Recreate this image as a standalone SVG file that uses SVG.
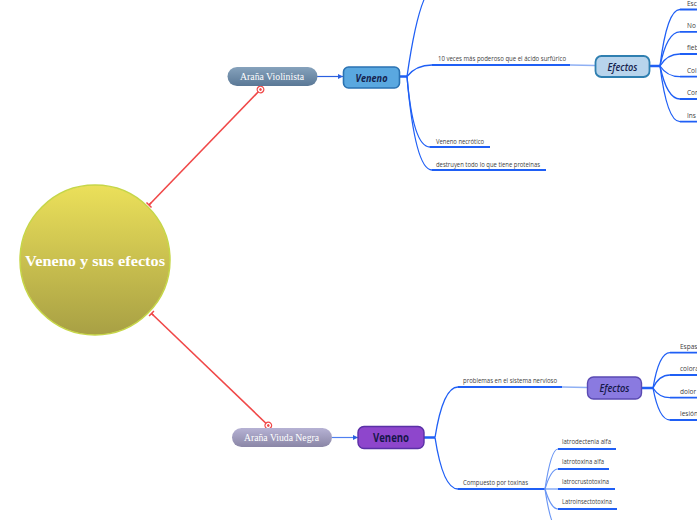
<svg xmlns="http://www.w3.org/2000/svg" width="697" height="520" viewBox="0 0 697 520">
<defs>
<linearGradient id="gCircle" x1="0" y1="0" x2="0" y2="1">
<stop offset="0" stop-color="#ebe05a"/><stop offset="1" stop-color="#a8a044"/>
</linearGradient>
<linearGradient id="gViol" x1="0" y1="0" x2="0" y2="1">
<stop offset="0" stop-color="#86a2bc"/><stop offset="1" stop-color="#5a7896"/>
</linearGradient>
<linearGradient id="gViuda" x1="0" y1="0" x2="0" y2="1">
<stop offset="0" stop-color="#b6b2d4"/><stop offset="1" stop-color="#8a86a6"/>
</linearGradient>
<marker id="tick" viewBox="-4 -4 8 8" markerWidth="8" markerHeight="8" refX="0" refY="0" orient="auto" markerUnits="userSpaceOnUse">
<path d="M0,-3.5 L0,3.5 M0,0 L3,0" stroke="#f04848" stroke-width="1.5" fill="none"/>
</marker>
<marker id="ring" viewBox="-5 -5 10 10" markerWidth="10" markerHeight="10" refX="0" refY="0" orient="auto" markerUnits="userSpaceOnUse">
<circle r="3.3" fill="#fff" stroke="#f04848" stroke-width="1.3"/><circle r="1.3" fill="#f04848"/>
</marker>
<marker id="arr" viewBox="0 0 6 6" markerWidth="5" markerHeight="5" refX="6" refY="3" orient="auto" markerUnits="userSpaceOnUse">
<path d="M0,0 L6,3 L0,6 z" fill="#2a60e0"/>
</marker>
</defs>
<style>
.br{fill:none;stroke:#1f5ff5;stroke-width:1.3}
.ul{fill:none;stroke:#1f5ff5;stroke-width:1.8}
.lt{fill:none;stroke:#8fb0f4;stroke-width:1.3}
.sub{fill:none;stroke:#6a96f4;stroke-width:1.2}
.thk{fill:none;stroke:#1f5ff5;stroke-width:2.5}
.red{fill:none;stroke:#f04848;stroke-width:1.6}
.t{font-family:"Open Sans","Noto Sans",sans-serif;font-size:6.5px;fill:#404040}
.sp{font-family:"Liberation Serif",serif;font-size:10px;fill:#fff}
</style>
<g id="connectors">
<path class="red" d="M149,205 L260.5,89.5" marker-start="url(#tick)" marker-end="url(#ring)"/>
<path class="red" d="M151.5,313.5 L268.3,425.5" marker-start="url(#tick)" marker-end="url(#ring)"/>
<path d="M317,76.5 L343,76.5" stroke="#2a60e0" stroke-width="1.2" marker-end="url(#arr)"/>
<path d="M332,437.5 L358,437.5" stroke="#5080f0" stroke-width="1.2" marker-end="url(#arr)"/>
<path class="thk" d="M399,76.5 L407,76.5"/>
<path class="br" d="M407,76.5 Q420,-14 436,-14"/>
<path class="ul" d="M436,-14 L540,-14"/>
<path class="br" d="M407,76.5 Q416,65 432,65"/>
<path class="ul" d="M432,65 L570,65"/>
<path class="lt" d="M570,65 L595,65.5"/>
<path class="br" d="M407,76.5 Q413,147 430,147"/>
<path class="ul" d="M430,147 L490,147"/>
<path class="br" d="M407,76.5 Q415,170 432,170"/>
<path class="ul" d="M432,170 L546,170"/>
<path class="thk" d="M649,66 L660,66"/>
<path class="br" d="M660,66 Q667,9.5 680,9.5"/>
<path class="br" d="M660,66 Q667,31.8 680,31.8"/>
<path class="br" d="M660,66 Q667,54 680,54"/>
<path class="br" d="M660,66 Q667,76.7 680,76.7"/>
<path class="br" d="M660,66 Q667,99 680,99"/>
<path class="br" d="M660,66 Q667,121.7 680,121.7"/>
<path class="ul" d="M680,9.5 L700,9.5 M680,31.8 L700,31.8 M680,54 L700,54 M680,76.7 L700,76.7 M680,99 L700,99 M680,121.7 L700,121.7"/>
<path class="thk" d="M424,437.5 L435,437.5"/>
<path class="br" d="M435,437.5 Q443,387 458,387"/>
<path class="ul" d="M458,387 L562,387"/>
<path class="lt" d="M562,387 L587,387.5"/>
<path class="br" d="M435,437.5 Q443,489 458,489"/>
<path class="ul" d="M458,489 L545,489"/>
<path class="sub" d="M545,489 Q551,449 558,449"/>
<path class="sub" d="M545,489 Q551,469 558,469"/>
<path class="sub" d="M545,489 L558,489"/>
<path class="sub" d="M545,489 Q551,509 558,509"/>
<path class="sub" d="M545,489 Q551,529 558,529"/>
<path class="ul" d="M558,449 L616,449 M558,469 L609,469 M558,489 L615,489 M558,509 L617,509"/>
<path class="thk" d="M641,388 L653,388"/>
<path class="br" d="M653,388 Q659,352.7 670,352.7"/>
<path class="br" d="M653,388 Q659,375 670,375"/>
<path class="br" d="M653,388 Q659,397.7 670,397.7"/>
<path class="br" d="M653,388 Q659,420 670,420"/>
<path class="ul" d="M670,352.7 L700,352.7 M670,375 L700,375 M670,397.7 L700,397.7 M670,420 L700,420"/>
</g>
<g id="central">
<circle cx="95" cy="260" r="75" fill="url(#gCircle)" stroke="#c6d648" stroke-width="1.5"/>
<text x="95" y="265.5" text-anchor="middle" font-family="Liberation Serif,serif" font-weight="bold" font-size="15" fill="#fff" textLength="140" lengthAdjust="spacingAndGlyphs">Veneno y sus efectos</text>
</g>
<g id="arana-violinista">
<rect x="227.5" y="67" width="90" height="19" rx="9.5" fill="url(#gViol)"/>
<text class="sp" x="272" y="79.5" text-anchor="middle" textLength="64" lengthAdjust="spacingAndGlyphs">Araña Violinista</text>
</g>
<g id="veneno-1">
<rect x="343.5" y="67" width="56" height="21" rx="5" fill="#5aa8e0" stroke="#2a72b2" stroke-width="1.6"/>
<text x="371.5" y="81.5" text-anchor="middle" font-family="Open Sans,sans-serif" font-style="italic" font-weight="bold" font-size="11" fill="#15224e" textLength="32" lengthAdjust="spacingAndGlyphs">Veneno</text>
</g>
<g id="item-10veces"><text class="t" x="438" y="60.5" textLength="128" lengthAdjust="spacingAndGlyphs">10 veces más poderoso que el ácido surfúrico</text></g>
<g id="item-necrotico"><text class="t" x="436" y="143.5" textLength="48" lengthAdjust="spacingAndGlyphs">Veneno necrótico</text></g>
<g id="item-destruyen"><text class="t" x="436" y="166.5" textLength="104" lengthAdjust="spacingAndGlyphs">destruyen todo lo que tiene proteinas</text></g>
<g id="efectos-1">
<rect x="595.5" y="56" width="54" height="21" rx="6" fill="#b8d4ec" stroke="#2f7fb0" stroke-width="1.8"/>
<text x="622.5" y="70.5" text-anchor="middle" font-family="Open Sans,sans-serif" font-style="italic" font-weight="600" font-size="10.5" fill="#15224e" textLength="30" lengthAdjust="spacingAndGlyphs">Efectos</text>
</g>
<g id="efectos-1-items">
<text class="t" x="687" y="5.5">Esc</text>
<text class="t" x="687" y="27.5">No</text>
<text class="t" x="687" y="50">fieb</text>
<text class="t" x="687" y="72.5">Col</text>
<text class="t" x="687" y="95">Con</text>
<text class="t" x="687" y="117.5">Ins</text>
</g>
<g id="arana-viuda">
<rect x="232" y="428" width="100" height="19" rx="9.5" fill="url(#gViuda)"/>
<text class="sp" x="281.5" y="440.5" text-anchor="middle" textLength="75" lengthAdjust="spacingAndGlyphs">Araña Viuda Negra</text>
</g>
<g id="veneno-2">
<rect x="358" y="426.5" width="66" height="22" rx="6" fill="#8e46cc" stroke="#5a30a6" stroke-width="1.4"/>
<text x="391" y="441.5" text-anchor="middle" font-family="Open Sans,sans-serif" font-weight="bold" font-size="11.5" fill="#16164a" textLength="36" lengthAdjust="spacingAndGlyphs">Veneno</text>
</g>
<g id="item-problemas"><text class="t" x="463" y="383" textLength="94" lengthAdjust="spacingAndGlyphs">problemas en el sistema nervioso</text></g>
<g id="item-compuesto"><text class="t" x="463" y="485" textLength="65" lengthAdjust="spacingAndGlyphs">Compuesto por toxinas</text></g>
<g id="toxinas">
<text class="t" x="562" y="444" textLength="49" lengthAdjust="spacingAndGlyphs">latrodectenia alfa</text>
<text class="t" x="562" y="464" textLength="42" lengthAdjust="spacingAndGlyphs">latrotoxina alfa</text>
<text class="t" x="562" y="484" textLength="47" lengthAdjust="spacingAndGlyphs">latrocrustotoxina</text>
<text class="t" x="562" y="504" textLength="50" lengthAdjust="spacingAndGlyphs">Latroinsectotoxina</text>
</g>
<g id="efectos-2">
<rect x="587.5" y="377" width="54" height="22" rx="6" fill="#8a7ae0" stroke="#5a4ab2" stroke-width="1.4"/>
<text x="614.5" y="392" text-anchor="middle" font-family="Open Sans,sans-serif" font-style="italic" font-weight="600" font-size="10.5" fill="#15184a" textLength="30" lengthAdjust="spacingAndGlyphs">Efectos</text>
</g>
<g id="efectos-2-items">
<text class="t" x="680" y="348.5">Espas</text>
<text class="t" x="680" y="371">colora</text>
<text class="t" x="680" y="393.5">dolor</text>
<text class="t" x="680" y="416">lesión</text>
</g>
</svg>
